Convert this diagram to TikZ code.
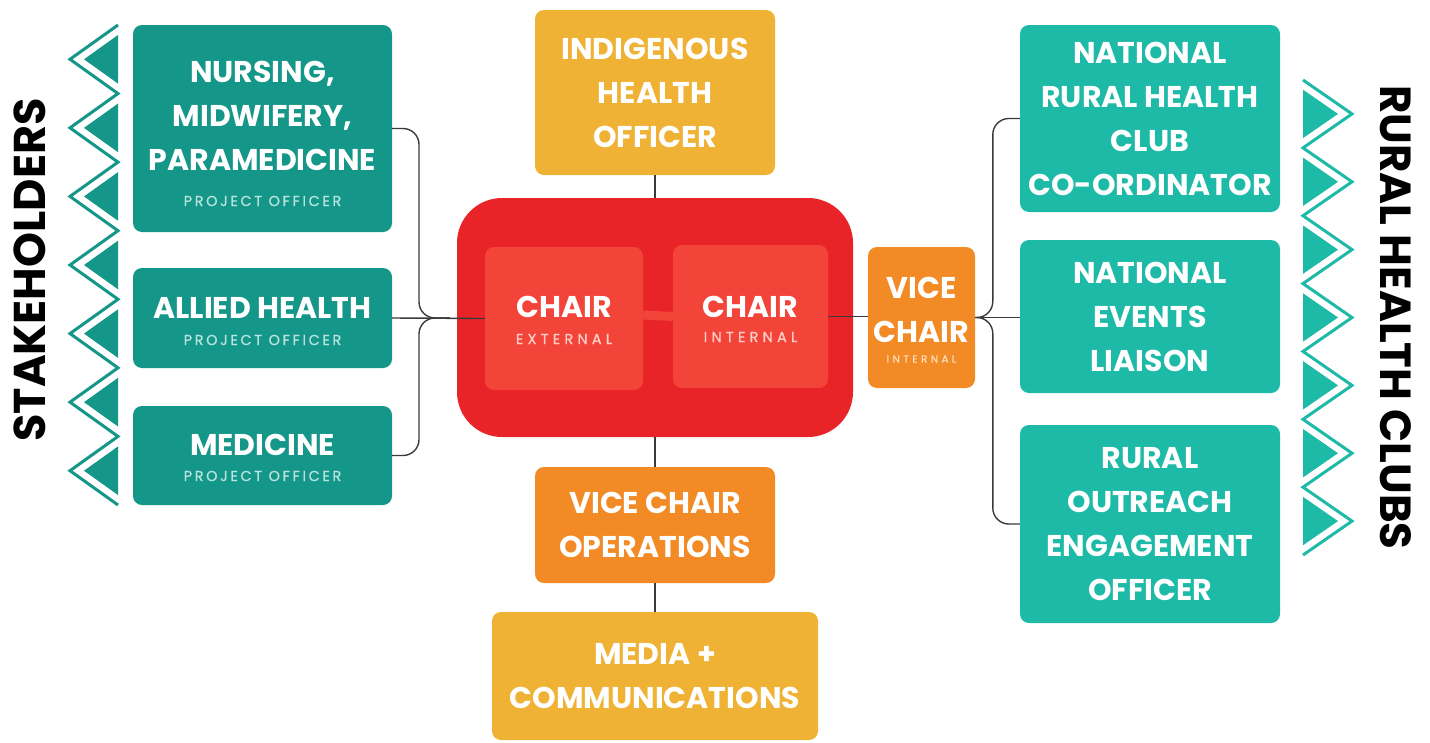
\documentclass[tikz,border=0pt]{standalone}
\usepackage{fontspec}
\newfontfamily\pop{Poppins}
\newfontfamily\popsp{Poppins}[LetterSpace=18,FakeBold=0.8]
\newfontfamily\popspw{Poppins}[LetterSpace=29,FakeBold=0.8]
\newfontfamily\popspv{Poppins}[LetterSpace=32,FakeBold=0.8]
\usetikzlibrary{calc}
\definecolor{tealdark}{RGB}{20,150,137}
\definecolor{teallight}{RGB}{30,186,168}
\definecolor{redbig}{RGB}{232,36,41}
\definecolor{redinner}{RGB}{243,68,58}
\definecolor{orangebox}{RGB}{242,139,38}
\definecolor{yellowbox}{RGB}{239,178,52}
\definecolor{linegray}{RGB}{58,58,58}
\definecolor{subteal}{RGB}{185,228,222}
\definecolor{subred}{RGB}{255,205,198}
\definecolor{suborange}{RGB}{255,222,190}
\begin{document}
\begin{tikzpicture}[x=1pt,y=-1pt,
  boxt/.style={rectangle, rounded corners=9pt, inner sep=0pt, text=white, align=center,
    font=\pop\bfseries\fontsize{30}{44}\selectfont},
  maintxt/.style={inner sep=0pt, text=white, align=center, font=\pop\bfseries\fontsize{30}{44}\selectfont},
  subtxt/.style={inner sep=0pt, font=\popsp\fontsize{14.5}{16}\selectfont},
  subwide/.style={inner sep=0pt, font=\popspw\fontsize{14.5}{16}\selectfont},
  side/.style={inner sep=0pt, text=black, font=\pop\bfseries\fontsize{44.5}{46}\selectfont},
  conn/.style={draw=linegray, line width=1.4pt}]
\useasboundingbox (0,0) rectangle (1430,742);

% chevrons left
\foreach \i in {0,...,6}{
  \pgfmathsetmacro\ya{25+\i*68.57}
  \fill[tealdark] (118,\ya+10) -- (84,\ya+34.29) -- (118,\ya+58.6) -- cycle;
}
\draw[tealdark, line width=3pt] (118,25)
  \foreach \i in {0,...,6}{ -- (70,{25+\i*68.57+34.29}) -- (118,{25+(\i+1)*68.57}) };
% chevrons right
\foreach \i in {0,...,6}{
  \pgfmathsetmacro\ya{80+\i*67.86}
  \fill[teallight] (1303,\ya+9.7) -- (1338,\ya+33.93) -- (1303,\ya+58.1) -- cycle;
}
\draw[teallight, line width=3pt] (1303,80)
  \foreach \i in {0,...,6}{ -- (1352,{80+\i*67.86+33.93}) -- (1303,{80+(\i+1)*67.86}) };

% side labels
\node[side, rotate=90] (stake) at (30,270) {STAKEHOLDERS};
\node[side, rotate=-90, font=\pop\bfseries\fontsize{43.5}{46}\selectfont] (rhc) at (1396,317.5) {RURAL HEALTH CLUBS};

% left boxes
\node[boxt, fill=tealdark, minimum width=259pt, minimum height=207pt] (nurse) at (262.5,128.5) {};
\node[boxt, fill=tealdark, minimum width=259pt, minimum height=100pt] (allied) at (262.5,318) {};
\node[boxt, fill=tealdark, minimum width=259pt, minimum height=99pt] (med) at (262.5,455.5) {};
\node[maintxt] (nurseT) at (262.5,116) {NURSING,\\MIDWIFERY,\\PARAMEDICINE};
\node[subtxt, text=subteal] (nurseS) at (262.5,201) {PROJECT OFFICER};
\node[maintxt] (alliedT) at (262.5,307.5) {ALLIED HEALTH};
\node[subtxt, text=subteal] (alliedS) at (262.5,340) {PROJECT OFFICER};
\node[maintxt] (medT) at (262.5,445) {MEDICINE};
\node[subtxt, text=subteal] (medS) at (262.5,476) {PROJECT OFFICER};

% centre
\node[boxt, fill=yellowbox, minimum width=240pt, minimum height=165pt] (indig) at (655,92.5) {INDIGENOUS\\HEALTH\\OFFICER};
\node[rectangle, rounded corners=45pt, fill=redbig, minimum width=396pt, minimum height=239pt, inner sep=0pt] (red) at (655,317.5) {};
\node[boxt, fill=redinner, minimum width=158pt, minimum height=143pt] (ce) at (564,318.5) {};
\node[boxt, fill=redinner, minimum width=155pt, minimum height=143pt] (ci) at (750.5,316.5) {};
\draw[redinner, line width=9pt] ([yshift=3.5pt]ce.east) -- ([yshift=0pt]ci.west);
\node[maintxt] (ceT) at (564,307) {CHAIR};
\node[subwide, text=subred] (ceS) at (564,339) {EXTERNAL};
\node[maintxt] (ciT) at (750.5,307) {CHAIR};
\node[subwide, text=subred] (ciS) at (750.5,337) {INTERNAL};

\node[boxt, fill=orangebox, minimum width=107pt, minimum height=141pt] (vc) at (921.5,317.5) {};
\node[maintxt] (vcT) at (921.5,309.5) {VICE\\CHAIR};
\node[inner sep=0pt, text=suborange, font=\popspv\fontsize{10.5}{11}\selectfont] (vcS) at (921.5,359) {INTERNAL};

\node[boxt, fill=orangebox, minimum width=240pt, minimum height=116pt] (vco) at (655,525) {VICE CHAIR\\OPERATIONS};
\node[boxt, fill=yellowbox, minimum width=326pt, minimum height=128pt] (media) at (655,676) {MEDIA +\\COMMUNICATIONS};

% right boxes
\node[boxt, fill=teallight, minimum width=260pt, minimum height=187pt] (nrhc) at (1150,118.5) {NATIONAL\\RURAL HEALTH\\CLUB\\CO-ORDINATOR};
\node[boxt, fill=teallight, minimum width=260pt, minimum height=153pt] (events) at (1150,316.5) {NATIONAL\\EVENTS\\LIAISON};
\node[boxt, fill=teallight, minimum width=260pt, minimum height=198pt] (rural) at (1150,524) {RURAL\\OUTREACH\\ENGAGEMENT\\OFFICER};

% connectors
\coordinate (lj) at (450,318);
\draw[conn, rounded corners=16pt] (nurse.east) -| ([xshift=-31pt]lj) -- (lj);
\draw[conn, rounded corners=16pt] (med.east) -| ([xshift=-31pt]lj) -- (lj);
\draw[conn] (allied.east) -- (ce.west);
\draw[conn] (indig.south) -- (red.north);
\draw[conn] (red.south) -- (vco.north);
\draw[conn] (vco.south) -- (media.north);
\draw[conn] (ci.east) -- (ci.east -| vc.west);
\draw[conn, rounded corners=16pt] (vc.east) -| ([xshift=-27pt]nrhc.west) -- (nrhc.west);
\draw[conn, rounded corners=16pt] (vc.east) -| ([xshift=-27pt]rural.west) -- (rural.west);
\draw[conn] (vc.east) -- (vc.east -| events.west);
\end{tikzpicture}
\end{document}
